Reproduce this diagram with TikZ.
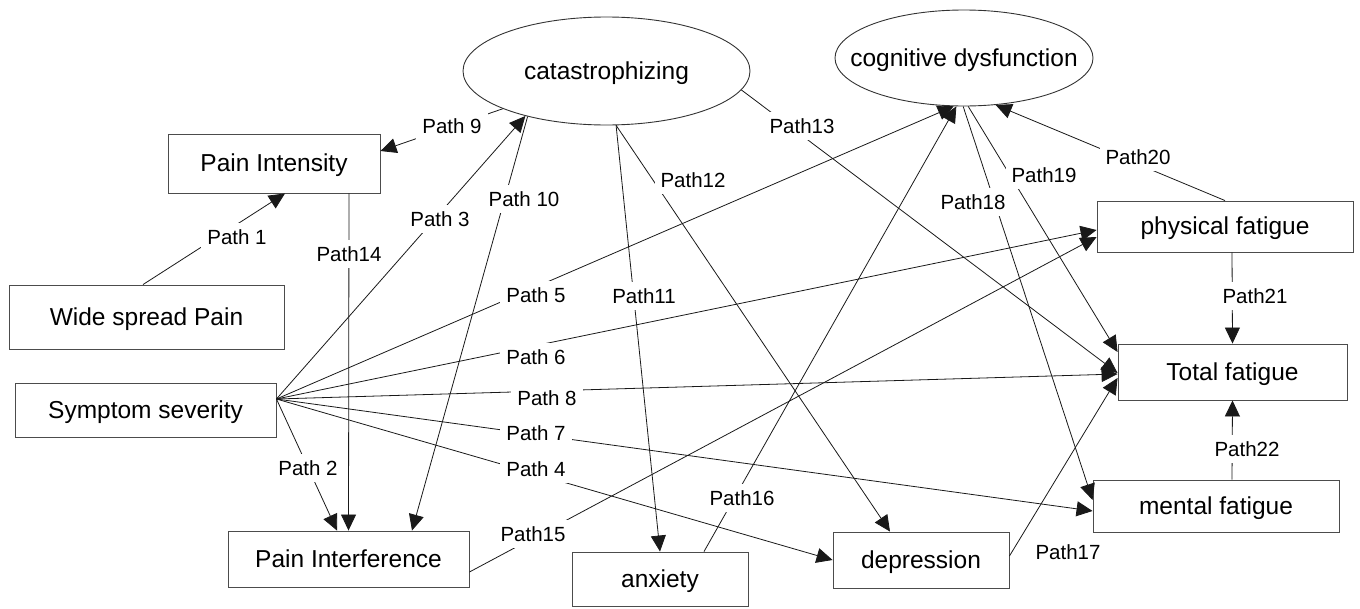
\documentclass[tikz,border=0pt]{standalone}
\usepackage{fontspec}
\setmainfont{Liberation Sans}
\usetikzlibrary{arrows.meta,shapes.geometric}
\begin{document}
\begin{tikzpicture}[x=1pt,y=-1pt,
  box/.style={draw=black!70, line width=0.9pt, rectangle, inner sep=0pt,
    font=\fontsize{24.5}{29}\selectfont, text height=21.5pt, text depth=5pt},
  oval/.style={draw=black!80, line width=0.9pt, ellipse, inner xsep=-30pt, inner ysep=0pt,
    font=\fontsize{24.5}{29}\selectfont, text height=21pt, text depth=5pt},
  lbl/.style={fill=white, inner sep=6pt, font=\fontsize{20.5}{24}\selectfont},
  conn/.style={draw=black!90, line width=0.8pt, -{Triangle[length=16pt,width=15pt]}}
]
\useasboundingbox (0,0) rectangle (1360,608);

% nodes
\node[box, minimum width=212pt, minimum height=59pt] (pi) at (274,163.5) {Pain Intensity};
\node[box, minimum width=275pt, minimum height=64pt] (wsp) at (146.5,317) {Wide spread Pain};
\node[box, minimum width=261pt, minimum height=54pt] (ss) at (145.5,410) {Symptom severity};
\node[box, minimum width=241pt, minimum height=56pt] (pint) at (348.5,559) {Pain Interference};
\node[oval, minimum width=287pt, minimum height=108pt] (cat) at (606.5,71) {catastrophizing};
\node[oval, minimum width=258pt, minimum height=96pt] (cog) at (964,58) {cognitive dysfunction};
\node[box, minimum width=256pt, minimum height=51pt] (pf) at (1225,226.5) {physical fatigue};
\node[box, minimum width=229pt, minimum height=56pt] (tf) at (1232.5,372) {Total fatigue};
\node[box, minimum width=246pt, minimum height=52pt] (mf) at (1216,506) {mental fatigue};
\node[box, minimum width=176pt, minimum height=56pt] (dep) at (921,560) {depression};
\node[box, minimum width=176pt, minimum height=54pt] (anx) at (660,579) {anxiety};

% connectors
\coordinate (src) at ([yshift=11pt]ss.east);
\draw[conn] ([xshift=-3.5pt]wsp.north) -- ([xshift=11pt]pi.south);
\draw[conn] (src) -- ([xshift=-11.5pt]pint.north);
\draw[conn] (src) -- (cat.209);
\draw[conn] (src) -- (dep.west);
\draw[conn] (src) -- (cog.258);
\draw[conn] (src) -- ([yshift=-3.5pt]pf.west);
\draw[conn] (src) -- ([yshift=-5pt]mf.west);
\draw[conn] (src) -- ([yshift=-2pt]tf.west);
\draw[conn] (cat.200) -- ([yshift=12.5pt]pi.east);
\draw[conn] (cat.210) -- ([xshift=63.5pt]pint.north);
\draw[conn] (cat.280) -- (anx.north);
\draw[conn] (cat.280) -- ([xshift=-31pt]dep.north);
\draw[conn] (cat.352) -- ([yshift=-1pt]tf.west);
\draw[conn] ([xshift=75pt]pi.south) -- (pint.north);
\draw[conn] ([yshift=-13pt]pint.east) -- ([yshift=-10.5pt]pf.west);
\draw[conn] ([xshift=44pt]anx.north) -- (cog.261);
\draw[conn] ([yshift=4pt]dep.east) -- ([yshift=-6pt]tf.west);
\draw[conn] (cog.269) -- ([yshift=6pt]mf.west);
\draw[conn] (cog.275) -- ([yshift=20pt]tf.west);
\draw[conn] (pf.north) -- (cog.304);
\draw[conn] ([xshift=7pt]pf.south) -- (tf.north);
\draw[conn] ([xshift=16pt]mf.north) -- (tf.south);

% labels
\node[lbl] (l1) at (237,237) {Path 1};
\node[lbl] (l2) at (308,468) {Path 2};
\node[lbl] (l3) at (440,219) {Path 3};
\node[lbl] (l4) at (536,469) {Path 4};
\node[lbl] (l5) at (536,295) {Path 5};
\node[lbl] (l6) at (536,357) {Path 6};
\node[lbl] (l7) at (536,433) {Path 7};
\node[lbl] (l8) at (547,398) {Path 8};
\node[lbl] (l9) at (452,126) {Path 9};
\node[lbl] (l10) at (524,199) {Path 10};
\node[lbl] (l11) at (644,296) {Path11};
\node[lbl] (l12) at (693,180) {Path12};
\node[lbl] (l13) at (802,126) {Path13};
\node[lbl] (l14) at (349,254) {Path14};
\node[lbl] (l15) at (533,534) {Path15};
\node[lbl] (l16) at (742,498) {Path16};
\node[lbl] (l17) at (1068,552) {Path17};
\node[lbl] (l18) at (973,202) {Path18};
\node[lbl] (l19) at (1044,175) {Path19};
\node[lbl] (l20) at (1138,157) {Path20};
\node[lbl] (l21) at (1255,296) {Path21};
\node[lbl] (l22) at (1247,449) {Path22};
\end{tikzpicture}
\end{document}
